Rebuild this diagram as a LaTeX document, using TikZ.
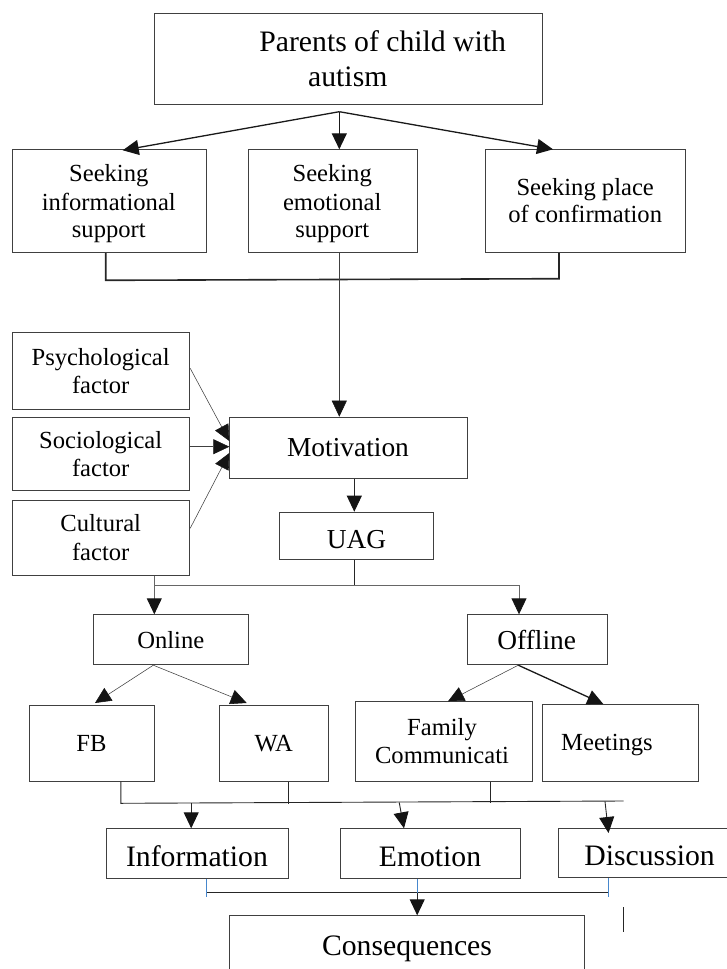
\documentclass[tikz,border=0pt]{standalone}
\usepackage{fontspec}
\setmainfont{Liberation Serif}
\usetikzlibrary{arrows.meta,calc}
\definecolor{tickblue}{RGB}{70,135,205}
\tikzset{
  x=1pt, y=-1pt,
  box/.style={draw=black!75, line width=0.9pt, inner sep=0pt, anchor=north west},
  txt/.style={anchor=base, inner sep=0pt, text=black},
  fa/.style={font=\fontsize{29.7}{32}\selectfont},
  fb/.style={font=\fontsize{24.6}{28}\selectfont},
  fc/.style={font=\fontsize{27.4}{30}\selectfont},
  arr/.style={-{Triangle[length=16pt,width=15pt,color=black!92]}},
  thickln/.style={line width=1.3pt, black!90},
  thinln/.style={line width=0.55pt, black!75},
  medln/.style={line width=0.9pt, black!85},
}
\begin{document}
\begin{tikzpicture}
\useasboundingbox (0,0) rectangle (726,969);
% boxes
\node[box, minimum width=387.7pt, minimum height=91pt] (top) at (154,13.3) {};
\node[box, minimum width=193.5pt, minimum height=103pt] (sk1) at (12,149.3) {};
\node[box, minimum width=169pt, minimum height=103pt] (sk2) at (247.7,149.3) {};
\node[box, minimum width=200.2pt, minimum height=103pt] (sk3) at (485,149.3) {};
\node[box, minimum width=177.3pt, minimum height=77pt] (psy) at (12,331.7) {};
\node[box, minimum width=177.3pt, minimum height=73.3pt] (soc) at (12,416.7) {};
\node[box, minimum width=177.3pt, minimum height=75pt] (cul) at (12,500) {};
\node[box, minimum width=237.4pt, minimum height=61pt] (mot) at (229.3,416.7) {};
\node[box, minimum width=154pt, minimum height=47.3pt] (uag) at (279.3,511.7) {};
\node[box, minimum width=155pt, minimum height=50pt] (onl) at (93.3,614.3) {};
\node[box, minimum width=140pt, minimum height=50pt] (off) at (466.7,614.3) {};
\node[box, minimum width=125.6pt, minimum height=75.4pt] (fbk) at (28.7,705.3) {};
\node[box, minimum width=109pt, minimum height=75.4pt] (wak) at (219.3,705.3) {};
\node[box, minimum width=177.2pt, minimum height=79.4pt] (fam) at (354.5,701.3) {};
\node[box, minimum width=156.6pt, minimum height=76.7pt] (mee) at (541.7,704) {};
\node[box, minimum width=182pt, minimum height=49.4pt] (inf) at (106,828.3) {};
\node[box, minimum width=180pt, minimum height=49.4pt] (emo) at (340,828.3) {};
\node[box, minimum width=171.7pt, minimum height=49pt] (dis) at (558.3,828.3) {};
\node[box, minimum width=355.2pt, minimum height=62pt] (con) at (228.8,915.3) {};
% texts
\node[txt, fa] (tp1) at (382.7,51.7) {Parents of child with};
\node[txt, fa] (tp2) at (347.8,86.7) {autism};
\node[txt, fb] (a1) at (108.8,181.7) {Seeking};
\node[txt, fb] (a2) at (108.8,210) {informational};
\node[txt, fb] (a3) at (108.8,237) {support};
\node[txt, fb] (b1) at (332.2,181.7) {Seeking};
\node[txt, fb] (b2) at (332.2,210) {emotional};
\node[txt, fb] (b3) at (332.2,237) {support};
\node[txt, fb] (c1) at (585.2,195) {Seeking place};
\node[txt, fb] (c2) at (585.2,222.7) {of confirmation};
\node[txt, fb] (p1) at (100.7,365) {Psychological};
\node[txt, fb] (p2) at (100.7,393.3) {factor};
\node[txt, fb] (s1) at (100.7,448.3) {Sociological};
\node[txt, fb] (s2) at (100.7,476.7) {factor};
\node[txt, fb] (k1) at (100.7,531.7) {Cultural};
\node[txt, fb] (k2) at (100.7,560) {factor};
\node[txt, fc] (mt) at (348,456.7) {Motivation};
\node[txt, fc] (ut) at (356.5,548.3) {UAG};
\node[txt, fb] (ot) at (170.8,648.3) {Online};
\node[txt, fc] (ft) at (536.7,649.3) {Offline};
\node[txt, fb] (fbt) at (91.4,751.7) {FB};
\node[txt, fb] (wat) at (273.8,751.7) {WA};
\node[txt, fb] (fm1) at (442,735) {Family};
\node[txt, fb] (fm2) at (442,763.3) {Communicati};
\node[txt, fb] (met) at (607,750.7) {Meetings};
\node[txt, fa] (it) at (197,866) {Information};
\node[txt, fa] (et) at (430,866) {Emotion};
\node[txt, fa] (dt) at (649.6,865) {Discussion};
\node[txt, fa] (ct) at (407,955) {Consequences};
% connectors: top
\coordinate (apex) at (339.3,111.7);
\draw[thickln, arr] (apex) -- ($(sk1.north west)+(110.7,1)$);
\draw[thickln, arr] (apex) -- (apex |- sk2.north);
\draw[thickln, arr] (apex) -- ($(sk3.north west)+(68,0)$);
\coordinate (bl) at (105.7,280.3);
\coordinate (br) at (559,278.7);
\draw[line width=1.6pt, black!85] (bl |- sk1.south) -- (bl) -- (br) -- (br |- sk3.south);
\draw[thinln, arr] (apex |- sk2.south) -- (apex |- mot.north);
% factors
\draw[thinln, arr] ($(psy.north east)+(0,36.6)$) -- ($(mot.north west)+(0,24.3)$);
\draw[thinln, arr] ($(soc.north east)+(0,30)$) -- ($(mot.north west)+(0,30)$);
\draw[thinln, arr] ($(cul.north east)+(0,28.3)$) -- ($(mot.north west)+(0,36.3)$);
% motivation / UAG
\coordinate (vx) at (354.3,585);
\coordinate (jl) at (154.3,585);
\coordinate (jr) at (519,585);
\draw[medln, arr] (vx |- mot.south) -- (vx |- uag.north);
\draw[medln] (vx |- uag.south) -- (vx);
\draw[line width=0.9pt, black!60, arr] (jl |- cul.south) -- (jl |- onl.north);
\draw[line width=0.9pt, black!60] (jl) -- (jr);
\draw[line width=0.9pt, black!60, arr] (jr) -- (jr |- off.north);
% online / offline
\draw[thinln, arr] ($(onl.south west)+(60,0)$) -- ($(fbk.north west)+(66.3,-2.3)$);
\draw[thinln, arr] ($(onl.south west)+(60,0)$) -- ($(wak.north west)+(27.4,-2.3)$);
\draw[thinln, arr] ($(off.south west)+(51.6,0)$) -- ($(fam.north west)+(93.5,0)$);
\draw[thickln, arr] ($(off.south west)+(51.6,0)$) -- ($(mee.north west)+(61.6,0)$);
% lower collectors
\coordinate (q1) at (120.8,803.3);
\coordinate (q2) at (623.5,801);
\coordinate (w1) at (288,804);
\coordinate (f1) at (490,803.3);
\draw[medln] (q1 |- fbk.south) -- (q1) -- (q2);
\draw[medln] (w1 |- wak.south) -- (w1);
\draw[medln] (f1 |- fam.south) -- (f1);
\coordinate (r1) at (191.2,803.3);
\coordinate (r2) at (399.2,802.4);
\coordinate (r3) at (605,801.4);
\draw[medln, arr] (r1) -- (r1 |- inf.north);
\draw[medln, arr] (r2) -- ($(emo.north west)+(64,0)$);
\draw[medln, arr] (r3) -- ($(dis.north west)+(50.2,4.7)$);
% bottom collector
\coordinate (h1) at (206,892.5);
\coordinate (h2) at (608.5,892.5);
\coordinate (h3) at (417.2,892.5);
\draw[medln] (h1) -- (h2);
\draw[line width=1pt, tickblue] (h1 |- inf.south) -- ($(h1)+(0,4.5)$);
\draw[line width=1pt, tickblue] (h3 |- emo.south) -- ($(h3)+(0,4.5)$);
\draw[line width=1pt, tickblue] (h2 |- dis.south) -- ($(h2)+(0,4.5)$);
\draw[medln, arr] (h3) -- (h3 |- con.north);
% stray mark
\draw[line width=1.3pt, black!85] (623.5,907) -- (623.5,931.7);
\end{tikzpicture}
\end{document}
